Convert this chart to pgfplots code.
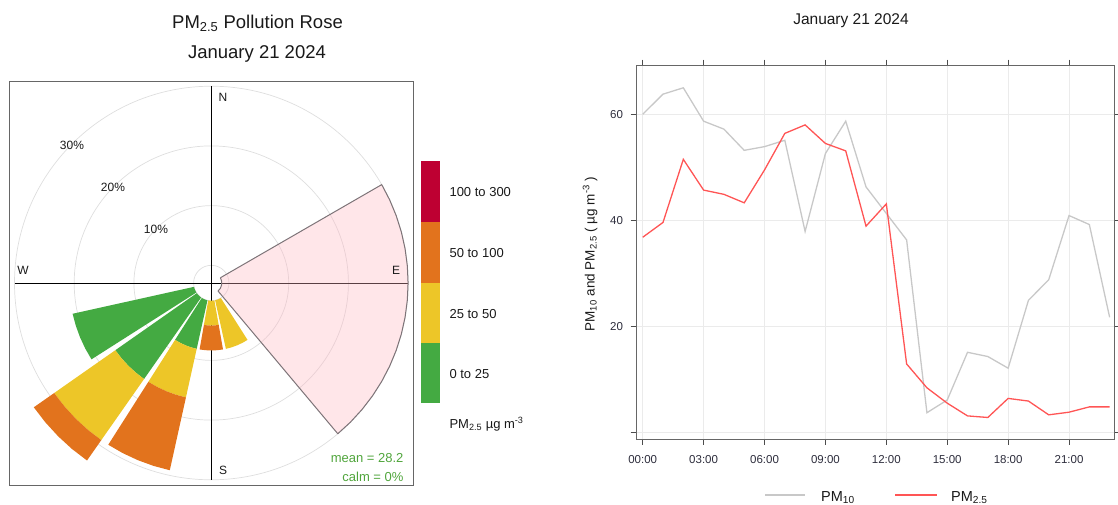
\documentclass[border=0pt]{standalone}
\usepackage{pgfplots}
\pgfplotsset{compat=1.18}
\usepackage{fontspec}
\setmainfont{Liberation Sans}
\definecolor{cgreen}{RGB}{68,170,66}
\definecolor{cyellow}{RGB}{237,198,40}
\definecolor{corange}{RGB}{226,115,29}
\definecolor{cred}{RGB}{190,0,50}
\definecolor{cpink}{RGB}{255,182,193}
\definecolor{cborder}{RGB}{125,116,120}
\definecolor{ctext}{RGB}{25,25,25}
\definecolor{cmean}{RGB}{80,165,60}
\definecolor{pmten}{RGB}{200,200,200}
\definecolor{pmtwo}{RGB}{255,85,85}
\definecolor{tickc}{RGB}{45,45,60}
\def\PX{\thisrow{r}*sin(\thisrow{a})}
\def\PY{\thisrow{r}*cos(\thisrow{a})}
\pgfplotsset{wedge/.style={draw=none, mark=none, forget plot}}
\begin{document}
\begin{tikzpicture}
\path[use as bounding box] (0pt,0pt) rectangle (1118pt,-504pt);
% ---------------- Pollution rose ----------------
\begin{axis}[at={(9.3pt,-81pt)}, anchor=north west, scale only axis,
  width=404pt, height=404pt,
  xmin=-33.84, xmax=33.84, ymin=-33.84, ymax=33.84,
  xtick=\empty, ytick=\empty,
  axis line style={draw=black!60, line width=0.8pt}]
\draw[black!13, line width=0.7pt] (axis cs:0,0) circle[radius=17.7pt];
\draw[black!13, line width=0.7pt] (axis cs:0,0) circle[radius=77.4pt];
\draw[black!13, line width=0.7pt] (axis cs:0,0) circle[radius=137.1pt];
\draw[black!13, line width=0.7pt] (axis cs:0,0) circle[radius=196.8pt];
\draw[black, line width=0.8pt] (axis cs:-32.965,0) -- (axis cs:32.965,0);
\draw[black, line width=0.8pt] (axis cs:0,-32.965) -- (axis cs:0,32.965);
% WSW (247.5): green
\addplot[wedge, fill=cgreen] table[x expr=\PX, y expr=\PY] {
a r
237.5 2.965
237.5 23.80
242.5 23.80
247.5 23.80
252.5 23.80
257.5 23.80
257.5 2.965
252.5 2.965
247.5 2.965
242.5 2.965
};
% SW (225)
\addplot[wedge, fill=cgreen] table[x expr=\PX, y expr=\PY] {
a r
215 2.965
215 19.63
220 19.63
225 19.63
230 19.63
235 19.63
235 2.965
230 2.965
225 2.965
220 2.965
};
\addplot[wedge, fill=cyellow] table[x expr=\PX, y expr=\PY] {
a r
215 19.63
215 32.13
220 32.13
225 32.13
230 32.13
235 32.13
235 19.63
230 19.63
225 19.63
220 19.63
};
\addplot[wedge, fill=corange] table[x expr=\PX, y expr=\PY] {
a r
215 32.13
215 36.30
220 36.30
225 36.30
230 36.30
235 36.30
235 32.13
230 32.13
225 32.13
220 32.13
};
% SSW (202.5)
\addplot[wedge, fill=cgreen] table[x expr=\PX, y expr=\PY] {
a r
192.5 2.965
192.5 11.30
197.5 11.30
202.5 11.30
207.5 11.30
212.5 11.30
212.5 2.965
207.5 2.965
202.5 2.965
197.5 2.965
};
\addplot[wedge, fill=cyellow] table[x expr=\PX, y expr=\PY] {
a r
192.5 11.30
192.5 19.63
197.5 19.63
202.5 19.63
207.5 19.63
212.5 19.63
212.5 11.30
207.5 11.30
202.5 11.30
197.5 11.30
};
\addplot[wedge, fill=corange] table[x expr=\PX, y expr=\PY] {
a r
192.5 19.63
192.5 32.13
197.5 32.13
202.5 32.13
207.5 32.13
212.5 32.13
212.5 19.63
207.5 19.63
202.5 19.63
197.5 19.63
};
% S (180)
\addplot[wedge, fill=cyellow] table[x expr=\PX, y expr=\PY] {
a r
170 2.965
170 7.13
175 7.13
180 7.13
185 7.13
190 7.13
190 2.965
185 2.965
180 2.965
175 2.965
};
\addplot[wedge, fill=corange] table[x expr=\PX, y expr=\PY] {
a r
170 7.13
170 11.30
175 11.30
180 11.30
185 11.30
190 11.30
190 7.13
185 7.13
180 7.13
175 7.13
};
% SSE (157.5)
\addplot[wedge, fill=cyellow] table[x expr=\PX, y expr=\PY] {
a r
147.5 2.965
147.5 11.30
152.5 11.30
157.5 11.30
162.5 11.30
167.5 11.30
167.5 2.965
162.5 2.965
157.5 2.965
152.5 2.965
};
% highlighted sector
\addplot[mark=none, forget plot, draw=cborder, line width=1pt, fill=cpink, fill opacity=0.35, line join=round] table[x expr=\PX, y expr=\PY] {
a r
60 1.76
60 32.965
65 32.965
70 32.965
75 32.965
80 32.965
85 32.965
90 32.965
95 32.965
100 32.965
105 32.965
110 32.965
115 32.965
120 32.965
125 32.965
130 32.965
135 32.965
140 32.965
140 1.76
120 1.76
100 1.76
80 1.76
60 1.76
};
\end{axis}
% rose texts
\node[anchor=base, text=ctext, font=\fontsize{18.5}{20}\selectfont] at (257.5pt,-28.3pt) {PM\textsubscript{2.5} Pollution Rose};
\node[anchor=base, text=ctext, font=\fontsize{18.5}{20}\selectfont] at (257pt,-58.3pt) {January 21 2024};
\begin{scope}[every node/.style={text=ctext, font=\fontsize{12}{13}\selectfont}]
\node at (223pt,-97pt) {N};
\node at (396pt,-270pt) {E};
\node at (223pt,-470pt) {S};
\node at (23pt,-270pt) {W};
\node at (156pt,-229pt) {10\%};
\node at (113pt,-187pt) {20\%};
\node at (72pt,-145pt) {30\%};
\end{scope}
\node[anchor=east, text=cmean, font=\fontsize{13}{14}\selectfont] at (407pt,-458pt) {mean = 28.2};
\node[anchor=east, text=cmean, font=\fontsize{13}{14}\selectfont] at (407pt,-476.5pt) {calm = 0\%};
% colour key
\fill[cred] (421pt,-161pt) rectangle (440pt,-221.7pt);
\fill[corange] (421pt,-221.7pt) rectangle (440pt,-282.7pt);
\fill[cyellow] (421pt,-282.7pt) rectangle (440pt,-342.7pt);
\fill[cgreen] (421pt,-342.7pt) rectangle (440pt,-403.3pt);
\begin{scope}[every node/.style={anchor=west, text=ctext, font=\fontsize{13}{14}\selectfont}]
\node at (446pt,-192.5pt) {100 to 300};
\node at (446pt,-253.5pt) {50 to 100};
\node at (446pt,-314pt) {25 to 50};
\node at (446pt,-374.5pt) {0 to 25};
\node at (446pt,-424pt) {PM\textsubscript{2.5} µg m\textsuperscript{-3}};
\end{scope}
% ---------------- Time series ----------------
\begin{axis}[at={(636pt,-65pt)}, anchor=north west, scale only axis,
  width=478.3pt, height=374pt,
  xmin=-0.33, xmax=23.23, ymin=-1.26, ymax=69.3,
  xtick={0,3,6,9,12,15,18,21},
  xticklabels={00:00,03:00,06:00,09:00,12:00,15:00,18:00,21:00},
  ytick={0,20,40,60}, yticklabels={,20,40,60},
  tick pos=both, tick align=outside, major tick length=5.5pt,
  xmajorgrids, ymajorgrids, grid style={draw=black!8, line width=0.8pt},
  axis line style={draw=black!60, line width=1pt},
  tick style={draw=black!70, line width=0.9pt},
  ticklabel style={font=\fontsize{11.5}{12}\selectfont, text=tickc},
  /pgf/number format/assume math mode=true,
  xticklabel style={yshift=-7.5pt}, yticklabel style={xshift=-4pt}]
\addplot[pmten, line width=1.3pt, mark=none] table {
h v
0 60.0
1 63.8
2 65.0
3 58.7
4 57.2
5 53.2
6 53.9
7 55.1
8 37.9
9 52.6
10 58.7
11 46.3
12 41.3
13 36.3
14 3.7
15 6.1
16 15.1
17 14.3
18 12.1
19 24.9
20 28.8
21 40.9
22 39.2
23 21.7
};
\addplot[pmtwo, line width=1.3pt, mark=none] table {
h v
0 36.8
1 39.6
2 51.5
3 45.7
4 44.9
5 43.3
6 49.5
7 56.4
8 58.0
9 54.5
10 53.1
11 38.9
12 43.1
13 12.9
14 8.4
15 5.5
16 3.1
17 2.8
18 6.4
19 5.9
20 3.3
21 3.8
22 4.8
23 4.8
};
\end{axis}
\node[anchor=base, text=ctext, font=\fontsize{15.5}{17}\selectfont] at (851pt,-24pt) {January 21 2024};
\node[rotate=90, text=ctext, font=\fontsize{13.5}{15}\selectfont] at (590pt,-254pt) {PM\textsubscript{10} and PM\textsubscript{2.5} ( µg m\textsuperscript{-3} )};
\draw[pmten, line width=2pt] (765pt,-495pt) -- (805pt,-495pt);
\node[anchor=base west, inner sep=0pt, text=ctext, font=\fontsize{14.5}{15}\selectfont] at (821pt,-501pt) {PM\textsubscript{10}};
\draw[pmtwo, line width=2pt] (895pt,-495pt) -- (937pt,-495pt);
\node[anchor=base west, inner sep=0pt, text=ctext, font=\fontsize{14.5}{15}\selectfont] at (951pt,-501pt) {PM\textsubscript{2.5}};
\end{tikzpicture}
\end{document}
